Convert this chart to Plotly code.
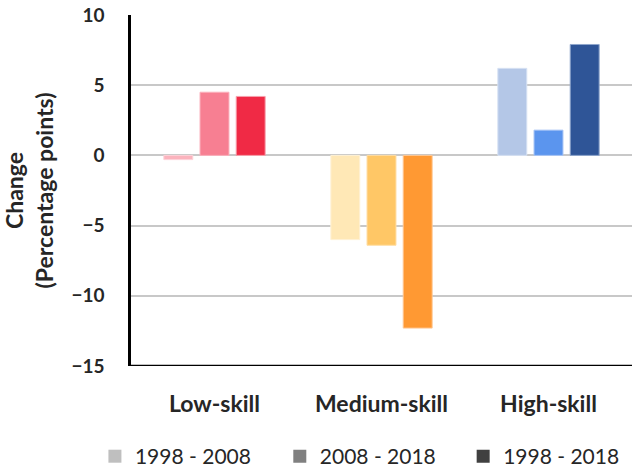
import plotly.graph_objects as go

categories = ["Low-skill", "Medium-skill", "High-skill"]
periods = ["1998 - 2008", "2008 - 2018", "1998 - 2018"]
change_1998_2008 = [-0.3, -6.0, 6.2]
change_2008_2018 = [4.5, -6.4, 1.8]
change_1998_2018 = [4.2, -12.3, 7.9]
series_values = [change_1998_2008, change_2008_2018, change_1998_2018]

# per-skill palettes, one shade per period
bar_colors = [
    ["#FBB3BD", "#FFE8B6", "#B4C7E7"],
    ["#F77F92", "#FFC766", "#5B95EE"],
    ["#F02A45", "#FF9933", "#2F5597"],
]
outline_colors = [
    ["#FDD3D9", "#FFF2D6", "#D6E1F3"],
    ["#FBB0BC", "#FFDDA3", "#A8C5F5"],
    ["#F7A0AC", "#FFC794", "#8FA6CC"],
]
legend_colors = ["#BFBFBF", "#808080", "#404040"]
legend_names = ["legend", "legend2", "legend3"]
legend_x = [-0.072, 0.297, 0.663]

FONT = "Lato"
TEXT = "#262626"

fig = go.Figure()
for name, vals, cols, lines in zip(periods, series_values, bar_colors, outline_colors):
    fig.add_trace(go.Bar(
        x=categories, y=vals, name=name, showlegend=False,
        marker=dict(color=cols, line=dict(color=lines, width=1)),
    ))
# neutral grey keys, one small legend per period
for name, col, lg in zip(periods, legend_colors, legend_names):
    fig.add_trace(go.Scatter(
        x=[None], y=[None], name=name, mode="markers", showlegend=True,
        legend=lg, marker=dict(symbol="square", color=col, size=13),
    ))

legend_style = dict(
    orientation="h", xanchor="left", y=-0.258, yanchor="middle",
    font=dict(family=FONT, size=21, color=TEXT), itemwidth=30,
)

fig.update_layout(
    width=632, height=468,
    margin=dict(l=131, r=0, t=15, b=102, autoexpand=False),
    paper_bgcolor="white", plot_bgcolor="white",
    barmode="group", bargap=0.35, bargroupgap=0.2,
    font=dict(family=FONT, color=TEXT),
    showlegend=True,
    legend=dict(x=legend_x[0], **legend_style),
    legend2=dict(x=legend_x[1], **legend_style),
    legend3=dict(x=legend_x[2], **legend_style),
    xaxis=dict(
        showgrid=False, showline=False, ticks="",
        tickfont=dict(family=FONT, size=23, color=TEXT, weight="bold"),
        ticklabelstandoff=22,
    ),
    yaxis=dict(
        range=[-15, 10], tickvals=[-15, -10, -5, 0, 5, 10],
        showgrid=True, gridcolor="#C8C8C8", gridwidth=1.5,
        zeroline=True, zerolinecolor="#C8C8C8", zerolinewidth=1.5,
        showline=True, linecolor="#000000", linewidth=2.5,
        ticks="", ticklabelstandoff=20,
        tickfont=dict(family=FONT, size=19, color=TEXT, weight="bold"),
        title=dict(
            text="Change<br>(Percentage points)",
            font=dict(family=FONT, size=23, color=TEXT, weight="bold"),
            standoff=14,
        ),
    ),
)

# black baseline along the bottom of the plot area
fig.add_shape(type="line", xref="paper", yref="y", x0=0, x1=1, y0=-15, y1=-15,
              line=dict(color="#000000", width=2.5))

fig.write_html("out.html")
